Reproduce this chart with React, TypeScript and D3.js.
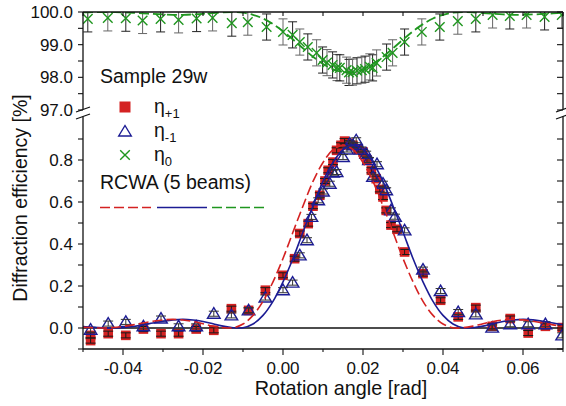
import React from "react";
import * as d3 from "d3";

const W = 566;
const H = 406;
const FONT = "'Liberation Sans', Arial, Helvetica, sans-serif";

// ---------- axis ticks ----------
const xMajorTicks = [-0.04, -0.02, 0.0, 0.02, 0.04, 0.06];
const xMajorLabels = ["-0.04", "-0.02", "0.00", "0.02", "0.04", "0.06"];
const xMinorTicks = [-0.05, -0.03, -0.01, 0.01, 0.03, 0.05, 0.07];
const upperTicks = [97, 97.5, 98, 98.5, 99, 99.5, 100];
const upperLabelVals = [97, 98, 99, 100];
const upperLabels = ["97.0", "98.0", "99.0", "100.0"];
const lowerTicks = [-0.1, 0, 0.1, 0.2, 0.3, 0.4, 0.5, 0.6, 0.7, 0.8, 0.9];
const lowerLabelVals = [0, 0.2, 0.4, 0.6, 0.8];
const lowerLabels = ["0.0", "0.2", "0.4", "0.6", "0.8"];

// ---------- RCWA (5 beams) curves ----------
const rcwaX = [
  -0.05, -0.0475, -0.045, -0.0425, -0.04, -0.0375, -0.035, -0.0325, -0.03, -0.0275,
  -0.025, -0.0225, -0.02, -0.0175, -0.015, -0.0125, -0.01, -0.0075, -0.005, -0.0025,
  0.0, 0.0025, 0.005, 0.0075, 0.01, 0.0125, 0.015, 0.0175, 0.02, 0.0225,
  0.025, 0.0275, 0.03, 0.0325, 0.035, 0.0375, 0.04, 0.0425, 0.045, 0.0475,
  0.05, 0.0525, 0.055, 0.0575, 0.06, 0.0625, 0.065, 0.0675, 0.07,
];
const rcwaPlus = [
  0.0035, 0.001, 0.0, 0.002, 0.0075, 0.015, 0.024, 0.032, 0.0385, 0.041,
  0.038, 0.031, 0.0205, 0.009, 0.0015, 0.001, 0.019, 0.06, 0.127, 0.22,
  0.331, 0.457, 0.581, 0.698, 0.788, 0.849, 0.869, 0.849, 0.788, 0.698,
  0.581, 0.457, 0.331, 0.22, 0.127, 0.06, 0.019, 0.001, 0.0015, 0.009,
  0.0205, 0.031, 0.038, 0.041, 0.0385, 0.032, 0.024, 0.015, 0.0075,
];
const rcwaMinus = [
  0.007, 0.0035, 0.001, 0.0, 0.002, 0.0075, 0.015, 0.024, 0.032, 0.0385,
  0.041, 0.038, 0.031, 0.0205, 0.009, 0.0015, 0.001, 0.019, 0.06, 0.127,
  0.22, 0.331, 0.457, 0.581, 0.698, 0.788, 0.849, 0.869, 0.849, 0.788,
  0.698, 0.581, 0.457, 0.331, 0.22, 0.127, 0.06, 0.019, 0.001, 0.0015,
  0.009, 0.0205, 0.031, 0.038, 0.041, 0.0385, 0.032, 0.024, 0.015,
];
const rcwaZero = [
  99.989, 99.995, 99.999, 99.998, 99.99, 99.976, 99.958, 99.94, 99.925, 99.915,
  99.915, 99.926, 99.945, 99.968, 99.989, 99.997, 99.979, 99.915, 99.8, 99.629,
  99.41, 99.157, 98.889, 98.631, 98.41, 98.248, 98.162, 98.162, 98.248, 98.41,
  98.631, 98.889, 99.157, 99.41, 99.629, 99.8, 99.915, 99.979, 99.997, 99.989,
  99.968, 99.945, 99.926, 99.915, 99.915, 99.925, 99.94, 99.958, 99.976,
];

// ---------- measured eta_+1 ----------
const etaPlusX = [
  -0.0481, -0.0481, -0.0437, -0.0393, -0.0349, -0.0305, -0.0261, -0.0217, -0.0173, -0.0129,
  -0.0086, -0.0044, 0.0, 0.0029, 0.0042, 0.0063, 0.0075, 0.0092, 0.0105, 0.0113,
  0.0125, 0.0134, 0.0145, 0.0154, 0.0165, 0.0175, 0.0188, 0.02, 0.021, 0.0221,
  0.0233, 0.0242, 0.025, 0.0258, 0.027, 0.0285, 0.0304, 0.035, 0.0394, 0.0438,
  0.0482, 0.0523, 0.0568, 0.0613, 0.0656, 0.0698,
];
const etaPlusY = [
  -0.035, -0.06, -0.027, -0.035, -0.005, -0.027, -0.027, -0.005, -0.011, 0.092,
  0.084, 0.18, 0.251, 0.33, 0.45, 0.497, 0.58, 0.632, 0.7, 0.751,
  0.79, 0.846, 0.87, 0.89, 0.88, 0.87, 0.85, 0.838, 0.8, 0.751,
  0.711, 0.66, 0.624, 0.56, 0.49, 0.47, 0.362, 0.259, 0.132, 0.053,
  0.097, 0.008, 0.045, -0.024, 0.008, 0.002,
];

// ---------- measured eta_-1 ----------
const etaMinusX = [
  -0.0481, -0.0437, -0.0393, -0.0349, -0.0305, -0.0261, -0.0217, -0.0173, -0.0129, -0.0086,
  -0.0044, 0.0, 0.0024, 0.0042, 0.006, 0.0071, 0.0088, 0.01, 0.0117, 0.0125,
  0.0134, 0.015, 0.016, 0.0167, 0.0175, 0.0183, 0.0195, 0.0208, 0.0215, 0.0225,
  0.0235, 0.025, 0.0258, 0.027, 0.028, 0.0304, 0.035, 0.0394, 0.0438, 0.0482,
  0.0523, 0.0568, 0.0613, 0.0656, 0.0698,
];
const etaMinusY = [
  -0.008, 0.021, 0.029, 0.008, 0.045, 0.008, 0.008, 0.068, 0.06, 0.084,
  0.145, 0.18, 0.216, 0.346, 0.418, 0.529, 0.608, 0.65, 0.687, 0.74,
  0.743, 0.814, 0.85, 0.878, 0.87, 0.894, 0.85, 0.83, 0.8, 0.72,
  0.78, 0.687, 0.656, 0.56, 0.53, 0.465, 0.278, 0.176, 0.076, 0.065,
  0.002, 0.018, 0.018, 0.018, -0.035,
];

// ---------- measured eta_0 ----------
const eta0X = [
  -0.0488, -0.0438, -0.0393, -0.0351, -0.0306, -0.0261, -0.0216, -0.0176, -0.0128, -0.0088,
  -0.0041, 0.0, 0.0024, 0.0042, 0.0062, 0.0084, 0.0099, 0.011, 0.0124, 0.0135,
  0.0142, 0.0159, 0.0165, 0.0174, 0.0185, 0.0197, 0.0205, 0.0217, 0.0224, 0.0234,
  0.0259, 0.0274, 0.0304, 0.0347, 0.0392, 0.0437, 0.0482, 0.0524, 0.0567, 0.0609,
  0.0654, 0.0697,
];
const eta0Y = [
  99.79, 99.82, 99.81, 99.74, 99.79, 99.76, 99.8, 99.82, 99.66, 99.69,
  99.54, 99.39, 99.3, 99.08, 98.93, 98.75, 98.53, 98.45, 98.38, 98.3,
  98.29, 98.22, 98.15, 98.16, 98.2, 98.22, 98.25, 98.32, 98.29, 98.44,
  98.62, 98.75, 99.08, 99.39, 99.54, 99.72, 99.79, 99.91, 99.88, 99.91,
  99.85, 99.91,
];

const RED = "#d42222";
const BLUE = "#1c1c94";
const GREEN = "#1f961f";
const INK = "#111";

export default function App() {
  const x = d3.scaleLinear().domain([-0.05, 0.07]).range([83, 563]);
  const yU = d3.scaleLinear().domain([97, 100]).range([110, 12]);
  const yL = d3.scaleLinear().domain([-0.1, 1.0]).range([349, 118]);

  const mkLine = (ys: number[], sy: (v: number) => number) =>
    d3
      .line<number>()
      .x((_, i) => x(rcwaX[i]))
      .y((d) => sy(d))
      .curve(d3.curveCatmullRom.alpha(0.5))(ys) || "";

  const plusPath = mkLine(rcwaPlus, yL);
  const minusPath = mkLine(rcwaMinus, yL);
  const zeroPath = mkLine(rcwaZero, yU);

  const xL = x.range()[0];
  const xR = x.range()[1];
  const yTop = 12;
  const yBot = 349;
  const brkA = 109.5;
  const brkB = 116.5;

  const tri = (cx: number, cy: number) =>
    `M${cx},${cy - 6} L${cx + 6.3},${cy + 4.5} L${cx - 6.3},${cy + 4.5} Z`;
  const cross = (cx: number, cy: number, r = 4.8) =>
    `M${cx - r},${cy - r} L${cx + r},${cy + r} M${cx - r},${cy + r} L${cx + r},${cy - r}`;
  const errBar = (cx: number, y1: number, y2: number, hw: number) =>
    `M${cx},${y1} L${cx},${y2} M${cx - hw},${y1} L${cx + hw},${y1} M${cx - hw},${y2} L${cx + hw},${y2}`;

  const errL = 0.012;
  const err0 = 0.4;

  return (
    <svg
      width={W}
      height={H}
      style={{ position: "absolute", left: 0, top: 0, background: "#fff" }}
      fontFamily={FONT}
    >
      <defs>
        <clipPath id="clipU">
          <rect x={xL} y={yTop} width={xR - xL} height={110 - yTop} />
        </clipPath>
        <clipPath id="clipL">
          <rect x={xL} y={118} width={xR - xL} height={yBot - 118} />
        </clipPath>
      </defs>
      <rect x={0} y={0} width={W} height={H} fill="#fff" />

      {/* zero line */}
      <line x1={xL} x2={xR} y1={yL(0)} y2={yL(0)} stroke={INK} strokeWidth={1.6} />

      {/* upper panel: eta_0 */}
      <g clipPath="url(#clipU)">
        {eta0X.map((v, i) => (
          <path
            key={"e0e" + i}
            d={errBar(x(v), yU(eta0Y[i] + err0), yU(eta0Y[i] - err0), 4.5)}
            stroke={i % 2 === 0 ? "#222" : "#666"}
            strokeWidth={1}
            fill="none"
          />
        ))}
        {eta0X.map((v, i) => (
          <path key={"e0m" + i} d={cross(x(v), yU(eta0Y[i]))} stroke={GREEN} strokeWidth={1.4} fill="none" />
        ))}
        <path d={zeroPath} stroke={GREEN} strokeWidth={1.8} fill="none" strokeDasharray="10,4" />
      </g>

      {/* lower panel */}
      <g clipPath="url(#clipL)">
        {etaPlusX.map((v, i) => (
          <rect
            key={"sq" + i}
            x={x(v) - 4.8}
            y={yL(etaPlusY[i]) - 4.8}
            width={9.6}
            height={9.6}
            fill={RED}
          />
        ))}
        {etaPlusX.map((v, i) => (
          <path
            key={"sqe" + i}
            d={errBar(x(v), yL(etaPlusY[i] + errL), yL(etaPlusY[i] - errL), 5)}
            stroke="#1a1a1a"
            strokeWidth={1}
            fill="none"
          />
        ))}
        {etaMinusX.map((v, i) => (
          <path
            key={"tr" + i}
            d={tri(x(v), yL(etaMinusY[i]))}
            stroke={BLUE}
            strokeWidth={1.4}
            fill="none"
          />
        ))}
        {etaMinusX.map((v, i) => (
          <path
            key={"tre" + i}
            d={errBar(x(v), yL(etaMinusY[i] + errL), yL(etaMinusY[i] - errL), 5)}
            stroke="#333"
            strokeWidth={1}
            fill="none"
          />
        ))}
        <path d={minusPath} stroke={BLUE} strokeWidth={1.6} fill="none" />
        <path d={plusPath} stroke={RED} strokeWidth={1.6} fill="none" strokeDasharray="10,4" />
      </g>

      {/* frame / axes */}
      <g stroke={INK} strokeWidth={1.3} fill="none">
        <line x1={xL} x2={xR} y1={yTop} y2={yTop} />
        <line x1={xL} x2={xR} y1={yBot} y2={yBot} />
        <line x1={xL} x2={xL} y1={yTop} y2={brkA} />
        <line x1={xL} x2={xL} y1={brkB} y2={yBot} />
        <line x1={xR} x2={xR} y1={yTop} y2={brkA} />
        <line x1={xR} x2={xR} y1={brkB} y2={yBot} />
        {[brkA, brkB].map((b, i) => (
          <g key={"brk" + i}>
            <line x1={xL - 7} y1={b + 2.5} x2={xL + 7} y2={b - 2.5} />
            <line x1={xR - 7} y1={b + 2.5} x2={xR + 7} y2={b - 2.5} />
          </g>
        ))}
      </g>

      {/* ticks */}
      <g stroke={INK} strokeWidth={1.1}>
        {upperTicks.map((t, i) => (
          <g key={"ut" + i}>
            <line x1={xL - 5} x2={xL} y1={yU(t)} y2={yU(t)} />
            <line x1={xR - 6} x2={xR} y1={yU(t)} y2={yU(t)} />
          </g>
        ))}
        {lowerTicks.map((t, i) => (
          <g key={"lt" + i}>
            <line x1={xL - 5} x2={xL} y1={yL(t)} y2={yL(t)} />
            <line x1={xR - 6} x2={xR} y1={yL(t)} y2={yL(t)} />
          </g>
        ))}
        {xMajorTicks.map((t, i) => (
          <g key={"xt" + i}>
            <line x1={x(t)} x2={x(t)} y1={yBot} y2={yBot + 6} />
            <line x1={x(t)} x2={x(t)} y1={yTop} y2={yTop + 4} />
          </g>
        ))}
        {xMinorTicks.map((t, i) => (
          <g key={"xm" + i}>
            <line x1={x(t)} x2={x(t)} y1={yBot} y2={yBot + 3} />
            <line x1={x(t)} x2={x(t)} y1={yTop} y2={yTop + 4} />
          </g>
        ))}
      </g>

      {/* tick labels */}
      <g fontSize={17} fill={INK}>
        {upperLabelVals.map((v, i) => (
          <text key={"ul" + i} x={73} y={yU(v)} dy="0.35em" textAnchor="end">
            {upperLabels[i]}
          </text>
        ))}
        {lowerLabelVals.map((v, i) => (
          <text key={"ll" + i} x={73} y={yL(v)} dy="0.35em" textAnchor="end">
            {lowerLabels[i]}
          </text>
        ))}
        {xMajorTicks.map((v, i) => (
          <text key={"xl" + i} x={x(v)} y={374} textAnchor="middle">
            {xMajorLabels[i]}
          </text>
        ))}
      </g>

      {/* axis titles */}
      <text x={341} y={395} fontSize={19.8} textAnchor="middle" fill={INK}>
        Rotation angle [rad]
      </text>
      <text
        transform={`translate(27,198) rotate(-90)`}
        fontSize={19.5}
        textAnchor="middle"
        fill={INK}
      >
        Diffraction efficiency [%]
      </text>

      {/* legend */}
      <g fill={INK}>
        <text x={100} y={83} fontSize={19.5}>
          Sample 29w
        </text>
        <rect x={125 - 5.5} y={107 - 5.5} width={11} height={11} fill={RED} />
        <text x={154} y={113} fontSize={19.5}>
          η<tspan fontSize={13} dy={5}>+1</tspan>
        </text>
        <path d={tri(125, 131.5)} stroke={BLUE} strokeWidth={1.4} fill="none" />
        <text x={154} y={137} fontSize={19.5}>
          η<tspan fontSize={13} dy={5}>-1</tspan>
        </text>
        <path d={cross(125, 155)} stroke={GREEN} strokeWidth={1.4} fill="none" />
        <text x={154} y={161} fontSize={19.5}>
          η<tspan fontSize={13} dy={5}>0</tspan>
        </text>
        <text x={100} y={189} fontSize={19.5}>
          RCWA (5 beams)
        </text>
        <line x1={100} x2={151} y1={207.5} y2={207.5} stroke={RED} strokeWidth={1.6} strokeDasharray="10,4" />
        <line x1={157} x2={207} y1={207.5} y2={207.5} stroke={BLUE} strokeWidth={1.6} />
        <line x1={212} x2={264} y1={207.5} y2={207.5} stroke={GREEN} strokeWidth={1.6} strokeDasharray="10,4" />
      </g>
    </svg>
  );
}
